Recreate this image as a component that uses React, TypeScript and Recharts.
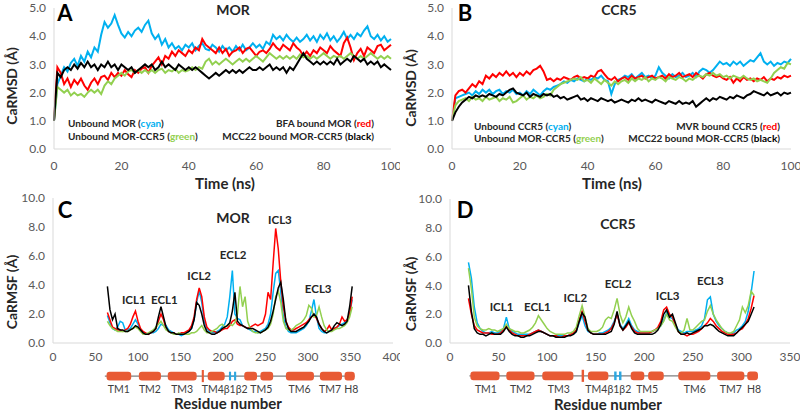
import React from 'react';
import { LineChart, Line, XAxis, YAxis, ReferenceArea, ReferenceDot } from 'recharts';

const FONT = 'Lato, "Open Sans", "DejaVu Sans", sans-serif';
const CYAN = '#00b0f0';
const RED = '#ff0000';
const GREEN = '#92d050';
const BLACK = '#000000';
const TM_FILL = '#e85a34';
const BETA_FILL = '#2ea7e0';
const LINK_FILL = '#7f7f7f';
const AXIS_GRAY = '#d9d9d9';
const TICK_GRAY = '#595959';
const TEXT_DARK = '#262626';

// ---------- Panel A: MOR RMSD (time 0..100 ns, 1 ns steps) ----------
const TIME_NS = Array.from({ length: 101 }, (_, i) => i);

const A_CYAN = [
  1.0, 2.3, 2.6, 2.9, 2.75, 3.05, 3.2, 2.95, 3.3, 3.1,
  3.45, 3.25, 3.6, 3.45, 4.05, 4.5, 4.3, 4.45, 4.75, 4.4,
  4.1, 3.95, 4.15, 4.0, 4.2, 4.3, 4.15, 4.4, 4.55, 4.1,
  3.9, 4.05, 3.7, 3.9, 3.6, 3.75, 3.55, 3.65, 3.5, 3.7,
  3.6, 3.75, 3.5, 3.65, 3.75, 3.55, 3.5, 3.7, 3.6, 3.45,
  3.65, 3.5, 3.6, 3.45, 3.65, 3.5, 3.7, 3.5, 3.6, 3.75,
  3.6, 3.7, 3.55, 3.8, 3.7, 4.05, 3.9, 4.0, 3.85, 4.05,
  3.9, 3.8, 3.95, 3.8, 3.9, 4.05, 3.85, 4.0, 3.8, 4.05,
  3.9, 4.1, 3.85, 4.0, 3.8, 3.95, 4.15, 3.9, 4.05, 3.9,
  4.1, 4.0, 4.2, 4.35, 4.0, 3.9, 4.05, 3.85, 4.0, 3.8,
  3.9,
];
const A_RED = [
  1.0, 2.9, 2.7, 2.3, 2.5, 2.2, 2.45, 2.3, 2.5, 2.25,
  2.1, 2.35, 2.5, 2.3, 2.55, 2.6, 2.45, 2.7, 2.55, 2.7,
  2.6, 2.8, 2.65, 2.55, 2.8, 2.7, 2.85, 2.9, 2.7, 2.95,
  3.1, 3.25, 3.0, 3.3, 3.2, 3.45, 3.3, 3.5, 3.4, 3.3,
  3.5, 3.4, 3.6, 3.5, 3.9, 3.7, 3.6, 3.5, 3.4, 3.6,
  3.4, 3.55, 3.3, 3.45, 3.5, 3.6, 3.4, 3.55, 3.6, 3.45,
  3.3, 3.45, 3.5, 3.4, 3.55, 3.75, 3.6, 3.5, 3.7, 3.6,
  3.5, 3.75, 3.6, 3.5, 3.3, 3.45, 3.3, 3.5, 3.4, 3.6,
  3.5, 3.4, 3.65, 3.5, 3.4, 3.3, 3.75, 3.95, 3.6, 3.15,
  3.4, 3.55, 3.3, 3.6, 3.5, 3.4, 3.65, 3.7, 3.5, 3.6,
  3.7,
];
const A_GREEN = [
  1.0, 2.2, 2.1, 2.0, 2.1, 1.9, 2.0, 1.9, 1.95, 1.85,
  2.0, 2.1, 2.0, 2.1, 1.95, 2.25, 2.4, 2.3, 2.5, 2.6,
  2.7, 2.6, 2.75, 2.8, 2.7, 2.8, 2.7, 2.8, 2.7, 2.8,
  2.7, 2.8, 2.85, 2.7, 2.8, 2.75, 2.85, 2.7, 2.8, 2.75,
  2.8, 2.9, 2.8, 2.9, 2.85, 3.1, 3.2, 3.0, 3.1, 3.0,
  3.1, 3.2, 3.1, 3.0, 3.1, 3.2, 3.1, 3.2, 3.1, 3.2,
  3.3, 3.2, 3.1, 3.25, 3.4, 3.3, 3.2, 3.3, 3.2, 3.3,
  3.2, 3.3, 3.2, 3.35, 3.25, 3.3, 3.2, 3.3, 3.2, 3.3,
  3.4, 3.3, 3.2, 3.3, 3.25, 3.3, 3.2, 3.3, 3.4, 3.3,
  3.2, 3.3, 3.2, 3.3, 3.4, 3.3, 3.2, 3.3, 3.2, 3.3,
  3.2,
];
const A_BLACK = [
  1.0, 2.7, 2.55, 2.8, 2.9, 2.8, 3.0, 2.85, 3.05, 2.9,
  3.1, 2.9, 3.0, 2.8, 3.0, 2.9, 3.1, 2.9, 3.0, 2.8,
  3.0, 2.9, 2.8, 2.9, 2.7, 2.8, 2.9, 3.0, 2.9, 3.0,
  2.8, 2.9, 3.1, 2.9, 3.0, 2.9, 2.8, 3.0, 2.9, 2.8,
  2.9, 2.8, 2.9, 2.8, 2.7, 2.6, 2.5, 2.6, 2.7, 2.6,
  2.7, 2.8, 2.7, 2.8, 2.7, 2.8, 2.7, 2.8, 2.9, 2.8,
  2.8, 2.9, 2.8, 2.9, 3.0, 2.8, 2.9, 2.8, 2.9, 2.7,
  2.9, 2.8, 3.0, 3.2, 3.4, 3.2, 3.1, 3.0, 3.1, 3.0,
  3.1, 3.0, 3.1, 3.0, 3.2, 3.0, 3.1, 3.2, 3.1, 3.3,
  3.2, 3.1, 3.2, 3.0, 3.1, 3.0, 3.1, 2.9, 3.0, 2.9,
  2.8,
];

// ---------- Panel B: CCR5 RMSD ----------
const B_CYAN = [
  1.0, 1.8, 1.85, 1.9, 1.95, 2.0, 1.9, 2.05, 1.95, 2.1,
  2.0, 2.1, 1.95, 2.05, 2.1, 1.95, 2.05, 2.0, 2.1, 1.95,
  2.0, 1.9, 2.05, 1.95, 2.1, 2.0, 1.9, 2.05, 2.15, 2.1,
  2.2, 2.25, 2.3, 2.4, 2.35, 2.45, 2.4, 2.5, 2.45, 2.4,
  2.5, 2.45, 2.55, 2.5, 2.6, 2.45, 2.4, 1.95, 2.3, 2.45,
  2.5, 2.6, 2.55, 2.65, 2.5, 2.6, 2.7, 2.55, 2.6, 2.5,
  2.6, 2.9, 2.7, 2.6, 2.5, 2.65, 2.55, 2.6, 2.7, 2.55,
  2.6, 2.7, 2.55, 2.75, 2.85, 2.8, 2.7, 2.8, 2.95, 3.1,
  3.0, 3.05, 2.95, 3.1, 3.0, 3.1, 2.95, 3.05, 3.15, 3.1,
  3.25, 3.4, 3.1, 3.0, 3.1, 2.95, 3.05, 3.0, 3.1, 3.05,
  3.2,
];
const B_RED = [
  1.0, 1.9, 2.05, 2.1, 2.0, 2.15, 2.3, 2.2, 2.4, 2.3,
  2.6, 2.5, 2.65, 2.55, 2.7, 2.6, 2.75, 2.6, 2.7, 2.55,
  2.7, 2.6, 2.75, 2.65, 2.8, 2.85, 2.95, 2.75, 2.45, 2.5,
  2.4, 2.5, 2.45, 2.55, 2.5, 2.45, 2.55, 2.6, 2.5, 2.55,
  2.5, 2.6, 2.55, 2.75, 2.8, 2.65, 2.5, 2.45, 2.55, 2.4,
  2.5, 2.55, 2.45, 2.6, 2.5, 2.55, 2.6, 2.5, 2.55, 2.6,
  2.5, 2.55, 2.6, 2.5, 2.65, 2.55, 2.6, 2.7, 2.55, 2.6,
  2.65, 2.55, 2.7, 2.6, 2.5, 2.65, 2.7, 2.6, 2.55, 2.6,
  2.5, 2.45, 2.55, 2.35, 2.5, 2.4, 2.55, 2.45, 2.5, 2.4,
  2.5, 2.45, 2.55, 2.4, 2.5, 2.45, 2.55, 2.5, 2.6, 2.55,
  2.6,
];
const B_GREEN = [
  1.0, 1.55, 1.7, 1.75, 1.8, 1.7, 1.85, 1.75, 1.8, 1.7,
  1.85, 1.75, 1.8, 1.85, 1.7, 1.8, 1.75, 1.85, 1.65, 1.7,
  1.8, 1.9, 1.75, 1.85, 1.8, 1.9, 1.8, 1.85, 1.95, 1.9,
  2.1, 2.2, 2.3, 2.35, 2.4, 2.45, 2.5, 2.45, 2.55, 2.4,
  2.45, 2.35, 2.5, 2.4, 2.3, 2.45, 2.35, 2.25, 2.4, 2.3,
  2.4, 2.45, 2.35, 2.5, 2.4, 2.5, 2.45, 2.55, 2.4, 2.5,
  2.45, 2.55, 2.5, 2.4, 2.55, 2.5, 2.45, 2.55, 2.5, 2.4,
  2.5, 2.45, 2.55, 2.6, 2.55, 2.65, 2.6, 2.7, 2.6, 2.65,
  2.55, 2.6, 2.5, 2.6, 2.55, 2.5, 2.6, 2.5, 2.45, 2.5,
  2.4, 2.45, 2.4, 2.35, 2.5, 2.7, 2.8, 2.9, 2.85, 3.05,
  3.0,
];
const B_BLACK = [
  1.0, 1.3, 1.5, 1.65, 1.75, 1.85, 1.8, 1.9, 1.85, 1.9,
  1.85, 1.95, 1.9, 1.85, 1.95, 1.9, 2.0, 2.1, 2.15, 2.0,
  1.95, 1.9, 2.0, 1.85, 1.95, 1.9, 1.85, 1.95, 1.9, 1.95,
  1.85, 1.9, 1.8, 1.85, 1.75, 1.8, 1.85, 1.9, 1.75, 1.8,
  1.7, 1.8, 1.75, 1.7, 1.8, 1.75, 1.7, 1.75, 1.65, 1.7,
  1.75, 1.7, 1.65, 1.75, 1.7, 1.8, 1.7, 1.75, 1.7, 1.65,
  1.75, 1.7, 1.65, 1.6, 1.7, 1.65, 1.6, 1.7, 1.6, 1.65,
  1.6, 1.7, 1.5, 1.6, 1.7, 1.8, 1.7, 1.8, 1.75, 1.85,
  1.8, 1.75, 1.85, 1.8, 1.9, 1.85, 1.8, 1.9, 1.95, 2.05,
  2.0, 1.95, 1.9, 2.0, 1.9, 1.95, 2.0, 1.9, 2.0, 1.95,
  2.0,
];

// ---------- Panel C: MOR RMSF (residues 64..352, step 3) ----------
const MOR_RESIDUES = Array.from({ length: 97 }, (_, i) => 64 + 3 * i);

const C_RED = [
  2.1, 1.6, 1.1, 1.0, 0.9, 0.9, 0.8, 0.9, 1.0, 1.3,
  1.8, 2.2, 1.5, 1.0, 0.8, 0.7, 0.6, 0.7, 0.8, 1.0,
  1.5, 2.0, 1.6, 1.0, 0.8, 0.7, 0.7, 0.6, 0.6, 0.7,
  0.7, 0.8, 0.9, 1.2, 1.8, 3.0, 3.8, 3.2, 1.8, 1.1,
  0.9, 0.8, 0.8, 0.7, 0.8, 0.9, 1.0, 1.0, 1.2, 1.5,
  1.6, 1.3, 1.2, 1.2, 1.1, 1.0, 1.1, 1.2, 1.3, 1.2,
  1.3, 1.4, 2.0, 3.5, 3.0, 5.5, 7.9, 6.5, 4.2, 2.5,
  1.5, 1.1, 0.9, 0.9, 1.0, 1.1, 1.2, 1.3, 1.4, 1.6,
  1.8, 1.9, 1.7, 1.3, 1.0, 0.8, 0.9, 1.2, 0.9, 1.0,
  1.1, 1.3, 1.8, 1.5, 1.6, 2.0, 3.2,
];
const C_CYAN = [
  1.9, 1.4, 1.0, 0.9, 1.1, 1.5, 1.4, 0.9, 0.9, 1.0,
  1.3, 1.6, 1.3, 0.9, 0.7, 0.6, 0.6, 0.7, 0.7, 0.8,
  1.0, 1.3, 1.2, 1.2, 0.9, 0.8, 0.7, 0.6, 0.6, 0.5,
  0.6, 0.7, 0.8, 1.0, 1.6, 2.8, 3.6, 2.8, 1.5, 1.0,
  0.8, 0.7, 0.7, 0.8, 0.9, 1.1, 1.3, 1.8, 3.2, 5.0,
  2.0, 1.7, 1.6, 1.2, 1.1, 1.0, 0.9, 0.8, 0.8, 0.7,
  0.8, 0.9, 1.0, 1.3, 2.0, 3.5, 4.8, 5.0, 3.5, 1.8,
  1.1, 0.8, 0.7, 0.7, 0.7, 0.8, 0.9, 1.0, 1.2, 1.5,
  2.2, 3.0, 1.8, 1.0, 0.8, 0.7, 0.7, 0.8, 0.9, 1.0,
  1.1, 1.2, 1.3, 1.4, 1.6, 2.0, 3.0,
];
const C_GREEN = [
  1.5, 1.2, 1.0, 0.9, 0.8, 0.8, 0.8, 0.8, 0.8, 0.9,
  1.0, 1.1, 1.0, 0.8, 0.6, 0.6, 0.7, 0.8, 0.9, 1.1,
  1.3, 1.5, 1.2, 0.9, 0.8, 0.7, 0.6, 0.6, 0.7, 0.6,
  0.6, 0.6, 0.6, 0.7, 0.7, 0.8, 1.0, 1.2, 0.9, 0.7,
  0.7, 0.8, 0.9, 1.0, 1.2, 1.3, 1.1, 1.2, 1.3, 1.2,
  1.4, 2.0, 3.9, 2.5, 3.2, 1.5, 1.0, 0.8, 0.7, 0.7,
  0.7, 0.8, 0.9, 1.0, 1.3, 2.0, 3.2, 3.6, 2.8, 1.5,
  1.0, 0.9, 0.9, 1.0, 1.2, 1.3, 1.4, 1.6, 1.9, 2.6,
  2.4, 1.8, 1.9, 2.5, 1.8, 1.2, 0.9, 0.8, 0.8, 0.9,
  1.0, 1.0, 1.1, 1.2, 1.4, 1.8, 2.5,
];
const C_BLACK = [
  3.9, 2.3, 1.6, 2.0, 1.0, 0.9, 0.9, 0.8, 0.8, 0.9,
  1.0, 1.2, 1.1, 0.9, 0.7, 0.6, 0.6, 0.7, 0.8, 1.0,
  1.8, 2.5, 1.8, 1.1, 0.8, 0.7, 0.7, 0.6, 0.6, 0.6,
  0.6, 0.7, 0.8, 1.0, 1.6, 2.8, 2.6, 2.0, 1.2, 0.8,
  0.7, 0.6, 0.6, 0.7, 0.8, 1.0, 1.1, 1.2, 1.4, 2.2,
  3.5, 1.5, 1.3, 1.2, 1.1, 1.0, 1.0, 1.0, 0.9, 0.8,
  0.7, 0.8, 0.9, 1.1, 1.5, 2.2, 3.0, 3.8, 4.2, 3.0,
  1.5, 1.0, 0.8, 0.8, 0.8, 0.9, 1.0, 1.1, 1.3, 1.5,
  1.8, 2.0, 1.8, 1.3, 1.0, 0.8, 0.7, 0.8, 0.9, 1.2,
  1.4, 1.3, 1.2, 1.3, 1.5, 2.5, 3.9,
];

// ---------- Panel D: CCR5 RMSF (residues 19..313, step 3) ----------
const CCR5_RESIDUES = Array.from({ length: 99 }, (_, i) => 19 + 3 * i);

const D_CYAN = [
  5.6, 4.5, 2.5, 1.4, 1.0, 0.8, 0.7, 0.7, 0.8, 0.7,
  0.7, 0.8, 1.0, 1.8, 1.0, 0.8, 0.7, 0.6, 0.6, 0.6,
  0.6, 0.6, 0.7, 0.8, 0.9, 0.8, 0.7, 0.6, 0.5, 0.5,
  0.5, 0.5, 0.5, 0.5, 0.5, 0.6, 0.6, 0.8, 1.4, 1.9,
  1.2, 0.8, 0.7, 0.6, 0.6, 0.7, 0.7, 0.8, 0.9, 1.1,
  1.5, 2.0, 1.3, 1.0, 1.3, 1.7, 1.2, 0.9, 0.8, 0.7,
  0.7, 0.7, 0.7, 0.8, 0.9, 1.0, 1.2, 1.6, 2.1, 1.8,
  1.7, 1.3, 0.9, 0.8, 0.7, 0.8, 0.8, 0.8, 0.9, 1.0,
  1.2, 1.7, 3.0, 3.2, 2.0, 1.5, 1.2, 1.0, 0.8, 0.7,
  0.6, 0.7, 0.9, 1.0, 1.2, 1.5, 2.2, 3.5, 5.0,
];
const D_RED = [
  3.1, 2.0, 1.2, 0.9, 0.8, 0.7, 0.7, 0.7, 0.6, 0.6,
  0.6, 0.7, 0.9, 1.2, 0.9, 0.7, 0.6, 0.5, 0.5, 0.5,
  0.5, 0.6, 0.7, 0.8, 0.9, 0.8, 0.7, 0.6, 0.5, 0.5,
  0.5, 0.4, 0.4, 0.5, 0.5, 0.6, 0.7, 0.9, 1.6, 2.2,
  1.5, 0.9, 0.7, 0.6, 0.6, 0.6, 0.6, 0.7, 0.8, 1.0,
  1.4, 2.0, 1.2, 0.9, 1.1, 1.4, 1.1, 0.8, 0.7, 0.7,
  0.7, 0.7, 0.7, 0.8, 0.9, 1.1, 1.5, 2.3, 2.5, 2.0,
  1.8, 1.2, 0.8, 0.6, 0.6, 0.5, 0.6, 0.6, 0.7, 0.8,
  1.0, 1.2, 1.4, 1.7, 1.5, 1.2, 1.0, 0.8, 0.7, 0.6,
  0.6, 0.6, 0.7, 0.9, 1.0, 1.3, 1.7, 2.4, 3.3,
];
const D_GREEN = [
  5.2, 3.8, 1.8, 1.2, 1.0, 0.9, 0.9, 1.0, 0.9, 0.9,
  0.8, 0.9, 1.0, 1.3, 1.0, 0.9, 0.8, 0.8, 0.7, 0.7,
  0.8, 0.9, 1.1, 1.4, 1.9, 1.6, 1.3, 1.0, 0.8, 0.7,
  0.6, 0.6, 0.6, 0.6, 0.7, 0.7, 0.8, 1.1, 1.9, 2.6,
  1.8, 1.0, 0.8, 0.8, 0.8, 0.9, 1.1, 1.6, 1.8, 1.7,
  2.3, 3.1, 2.0, 1.4, 1.8, 2.5, 1.9, 1.5, 1.0, 0.8,
  0.8, 0.8, 0.8, 0.8, 0.9, 1.0, 1.2, 1.5, 2.0, 1.6,
  1.5, 1.1, 0.8, 0.7, 0.9, 1.7, 0.9, 0.9, 1.1, 1.3,
  1.5, 1.6, 2.2, 2.6, 2.0, 1.6, 1.3, 1.0, 0.8, 0.7,
  0.7, 0.8, 1.2, 1.6, 2.5, 2.1, 2.6, 3.6, 3.3,
];
const D_BLACK = [
  4.0, 2.2, 1.0, 0.7, 0.6, 0.6, 0.5, 0.6, 0.7, 0.6,
  0.6, 0.6, 0.8, 1.1, 0.8, 0.6, 0.5, 0.5, 0.4, 0.4,
  0.5, 0.5, 0.6, 0.7, 0.8, 0.8, 0.7, 0.6, 0.5, 0.5,
  0.4, 0.4, 0.4, 0.4, 0.5, 0.5, 0.6, 0.8, 1.5, 2.1,
  1.8, 0.9, 0.7, 0.6, 0.6, 0.6, 0.6, 0.6, 0.7, 0.8,
  1.3, 2.2, 1.2, 0.9, 1.2, 1.5, 1.0, 0.7, 0.6, 0.6,
  0.6, 0.6, 0.6, 0.6, 0.7, 0.9, 1.3, 2.0, 2.3, 1.8,
  2.0, 1.4, 0.8, 0.6, 0.6, 0.7, 0.6, 0.7, 0.8, 0.9,
  1.0, 1.2, 1.2, 1.3, 1.2, 1.0, 0.8, 0.7, 0.6, 0.5,
  0.5, 0.5, 0.7, 0.9, 1.1, 1.3, 1.5, 2.0, 2.5,
];

// ---------- Secondary-structure diagrams (residue ranges) ----------
const MOR_SPAN = [61, 355];
const MOR_HELICES = [
  [63, 92], [101, 127], [135, 169], [182, 202], [225, 240], [244, 259], [274, 307], [314, 340], [343, 355],
];
const MOR_KINK = [175, 177.5];
const MOR_STRANDS = [[207, 209.5], [213, 215.5]];
const MOR_TM_LABELS = [
  { text: 'TM1', res: 77.5 }, { text: 'TM2', res: 114 }, { text: 'TM3', res: 152 },
  { text: 'TM4β1β2', res: 202 }, { text: 'TM5', res: 245 },
  { text: 'TM6', res: 290 }, { text: 'TM7', res: 326 }, { text: 'H8', res: 351 },
];
const MOR_LOOP_LABELS = [
  { text: 'ICL1', res: 95, val: 3.0 }, { text: 'ECL1', res: 131, val: 3.0 },
  { text: 'ICL2', res: 172, val: 4.6 }, { text: 'ECL2', res: 212, val: 6.1 },
  { text: 'ICL3', res: 267, val: 8.5 }, { text: 'ECL3', res: 312, val: 3.7 },
];

const CCR5_SPAN = [20, 317];
const CCR5_HELICES = [
  [21, 51], [58, 87], [95, 127], [142, 163], [186, 200], [204, 220], [235, 268], [275, 303], [306, 317],
];
const CCR5_KINK = [135.5, 138];
const CCR5_STRANDS = [[169, 171.5], [174, 176.5]];
const CCR5_TM_LABELS = [
  { text: 'TM1', res: 37 }, { text: 'TM2', res: 73 }, { text: 'TM3', res: 112 },
  { text: 'TM4β1β2', res: 163 }, { text: 'TM5', res: 203 },
  { text: 'TM6', res: 252 }, { text: 'TM7', res: 289 }, { text: 'H8', res: 313 },
];
const CCR5_LOOP_LABELS = [
  { text: 'ICL1', res: 53, val: 2.5 }, { text: 'ECL1', res: 90, val: 2.5 },
  { text: 'ICL2', res: 129, val: 3.1 }, { text: 'ECL2', res: 173, val: 4.1 },
  { text: 'ICL3', res: 224, val: 3.3 }, { text: 'ECL3', res: 268, val: 4.3 },
];

const TIME_TICKS = [0, 20, 40, 60, 80, 100];
const RMSD_TICKS = [0, 1, 2, 3, 4, 5];
const RMSF_TICKS = [0, 2, 4, 6, 8, 10];
const MOR_RES_TICKS = [0, 50, 100, 150, 200, 250, 300, 350, 400];
const CCR5_RES_TICKS = [0, 50, 100, 150, 200, 250, 300, 350];

const tableA = TIME_NS.map((t, i) => ({ x: t, cyan: A_CYAN[i], red: A_RED[i], green: A_GREEN[i], black: A_BLACK[i] }));
const tableB = TIME_NS.map((t, i) => ({ x: t, cyan: B_CYAN[i], red: B_RED[i], green: B_GREEN[i], black: B_BLACK[i] }));
const tableC = MOR_RESIDUES.map((r, i) => ({ x: r, cyan: C_CYAN[i], red: C_RED[i], green: C_GREEN[i], black: C_BLACK[i] }));
const tableD = CCR5_RESIDUES.map((r, i) => ({ x: r, cyan: D_CYAN[i], red: D_RED[i], green: D_GREEN[i], black: D_BLACK[i] }));

const fmt1 = (v: number) => v.toFixed(1);
const tickStyle = { fill: TICK_GRAY, fontSize: 12, fontFamily: FONT };

function Txt(props: {
  x: number; y: number; children: React.ReactNode; size?: number; bold?: boolean;
  anchor?: 'start' | 'middle' | 'end'; rotate?: number; color?: string;
}) {
  const { x, y, children, size = 12, bold = false, anchor = 'middle', rotate = 0, color = TEXT_DARK } = props;
  const tx = anchor === 'start' ? '0' : anchor === 'end' ? '-100%' : '-50%';
  return (
    <div
      style={{
        position: 'absolute', left: x, top: y, whiteSpace: 'nowrap',
        transform: `translate(${tx}, -50%) rotate(${rotate}deg)`,
        fontFamily: FONT, fontSize: size, fontWeight: bold ? 700 : 400, color, lineHeight: 1.15,
      }}
    >
      {children}
    </div>
  );
}

function seriesLines(width: number) {
  return [
    <Line key="cyan" dataKey="cyan" stroke={CYAN} strokeWidth={width} dot={false} activeDot={false} isAnimationActive={false} type="linear" />,
    <Line key="red" dataKey="red" stroke={RED} strokeWidth={width} dot={false} activeDot={false} isAnimationActive={false} type="linear" />,
    <Line key="green" dataKey="green" stroke={GREEN} strokeWidth={width} dot={false} activeDot={false} isAnimationActive={false} type="linear" />,
    <Line key="black" dataKey="black" stroke={BLACK} strokeWidth={width} dot={false} activeDot={false} isAnimationActive={false} type="linear" />,
  ];
}

function RmsdChart(props: { data: any[]; left: number; yWidth: number; right: number; top: number }) {
  const { data, left, yWidth, right, top } = props;
  return (
    <div style={{ position: 'absolute', left, top: 0 }}>
      <LineChart width={400} height={200} data={data} margin={{ top, right, bottom: 0, left: 0 }}>
        <XAxis dataKey="x" type="number" domain={[0, 100]} ticks={TIME_TICKS} interval={0} height={200 - 149 - 0}
          tickLine={false} axisLine={{ stroke: AXIS_GRAY }} tick={tickStyle} tickMargin={6} />
        <YAxis type="number" domain={[0, 5]} ticks={RMSD_TICKS} interval={0} width={yWidth}
          tickLine={false} axisLine={{ stroke: AXIS_GRAY }} tick={tickStyle} tickMargin={2} tickFormatter={fmt1} />
        {seriesLines(2)}
      </LineChart>
    </div>
  );
}

const BAR_TOP = -1.98;
const BAR_BOTTOM = -2.58;
const LINK_TOP = -2.24;
const LINK_BOTTOM = -2.33;
const LABEL_Y = -3.2;

function structure(span: number[], helices: number[][], kink: number[], strands: number[][], labels: { text: string; res: number }[]) {
  const out: React.ReactNode[] = [];
  out.push(<ReferenceArea key="link" x1={span[0]} x2={span[1]} y1={LINK_TOP} y2={LINK_BOTTOM} ifOverflow="visible" fill={LINK_FILL} fillOpacity={1} stroke="none" />);
  out.push(<ReferenceArea key="betalink" x1={strands[0][0]} x2={strands[1][1]} y1={LINK_TOP} y2={LINK_BOTTOM} ifOverflow="visible" fill={BETA_FILL} fillOpacity={1} stroke="none" />);
  helices.forEach((h, i) => {
    out.push(<ReferenceArea key={'h' + i} x1={h[0]} x2={h[1]} y1={BAR_TOP} y2={BAR_BOTTOM} ifOverflow="visible" fill={TM_FILL} fillOpacity={1} stroke="none" radius={3} />);
  });
  out.push(<ReferenceArea key="kink" x1={kink[0]} x2={kink[1]} y1={BAR_TOP + 0.12} y2={BAR_BOTTOM - 0.12} ifOverflow="visible" fill={TM_FILL} fillOpacity={1} stroke="none" />);
  strands.forEach((s, i) => {
    out.push(<ReferenceArea key={'s' + i} x1={s[0]} x2={s[1]} y1={BAR_TOP} y2={BAR_BOTTOM} ifOverflow="visible" fill={BETA_FILL} fillOpacity={1} stroke="none" />);
  });
  labels.forEach((l, i) => {
    out.push(
      <ReferenceDot key={'l' + i} x={l.res} y={LABEL_Y} r={0.5} fill="none" stroke="none" ifOverflow="visible"
        label={{ value: l.text, position: 'center', fill: '#404040', fontSize: 10.5, fontFamily: FONT }} />
    );
  });
  return out;
}

function loopLabels(labels: { text: string; res: number; val: number }[]) {
  return labels.map((l, i) => (
    <ReferenceDot key={'loop' + i} x={l.res} y={l.val} r={0.5} fill="none" stroke="none" ifOverflow="visible"
      label={{ value: l.text, position: 'center', fill: TEXT_DARK, fontSize: 11.5, fontWeight: 700, fontFamily: FONT }} />
  ));
}

function RmsfChart(props: {
  data: any[]; left: number; yWidth: number; right: number; top: number; xMax: number; xTicks: number[];
  span: number[]; helices: number[][]; kink: number[]; strands: number[][];
  tmLabels: { text: string; res: number }[]; loops: { text: string; res: number; val: number }[];
}) {
  const p = props;
  return (
    <div style={{ position: 'absolute', left: p.left, top: 190 }}>
      <LineChart width={400} height={222} data={p.data} margin={{ top: p.top, right: p.right, bottom: 0, left: 0 }}>
        <XAxis dataKey="x" type="number" domain={[0, p.xMax]} ticks={p.xTicks} interval={0} height={222 - 153}
          tickLine={false} axisLine={{ stroke: AXIS_GRAY }} tick={tickStyle} tickMargin={3} />
        <YAxis type="number" domain={[0, 10]} ticks={RMSF_TICKS} interval={0} width={p.yWidth}
          tickLine={false} axisLine={{ stroke: AXIS_GRAY }} tick={tickStyle} tickMargin={2} tickFormatter={fmt1} />
        {seriesLines(1.5)}
        {structure(p.span, p.helices, p.kink, p.strands, p.tmLabels)}
        {loopLabels(p.loops)}
      </LineChart>
    </div>
  );
}

function Legend2(props: { x: number; y: number; label: string; word: string; color: string; anchor: 'start' | 'end' }) {
  return (
    <Txt x={props.x} y={props.y} size={10} bold anchor={props.anchor}>
      {props.label} (<span style={{ color: props.color }}>{props.word}</span>)
    </Txt>
  );
}

export default function App() {
  return (
    <div style={{ position: 'absolute', left: 0, top: 0, width: 800, height: 412, overflow: 'hidden', background: '#fff' }}>
      <RmsdChart data={tableA} left={0} yWidth={54} right={9} top={8} />
      <RmsdChart data={tableB} left={400} yWidth={52} right={9} top={8} />
      <RmsfChart data={tableC} left={0} yWidth={53} right={7} top={8} xMax={400} xTicks={MOR_RES_TICKS}
        span={MOR_SPAN} helices={MOR_HELICES} kink={MOR_KINK} strands={MOR_STRANDS}
        tmLabels={MOR_TM_LABELS} loops={MOR_LOOP_LABELS} />
      <RmsfChart data={tableD} left={400} yWidth={50} right={10} top={9} xMax={350} xTicks={CCR5_RES_TICKS}
        span={CCR5_SPAN} helices={CCR5_HELICES} kink={CCR5_KINK} strands={CCR5_STRANDS}
        tmLabels={CCR5_TM_LABELS} loops={CCR5_LOOP_LABELS} />

      {/* Panel A annotations */}
      <Txt x={65} y={13} size={22} bold color="#000">A</Txt>
      <Txt x={233} y={10} size={14} bold>MOR</Txt>
      <Txt x={12} y={86} size={14} bold rotate={-90}>CaRMSD (Å)</Txt>
      <Txt x={225} y={184} size={15} bold>Time (ns)</Txt>
      <Legend2 x={68} y={124} label="Unbound MOR" word="cyan" color={CYAN} anchor="start" />
      <Legend2 x={68} y={137} label="Unbound MOR-CCR5" word="green" color={GREEN} anchor="start" />
      <Legend2 x={374} y={124} label="BFA bound MOR" word="red" color={RED} anchor="end" />
      <Legend2 x={374} y={137} label="MCC22 bound MOR-CCR5" word="black" color={BLACK} anchor="end" />

      {/* Panel B annotations */}
      <Txt x={465} y={13} size={22} bold color="#000">B</Txt>
      <Txt x={619} y={10} size={14} bold>CCR5</Txt>
      <Txt x={411} y={88} size={14} bold rotate={-90}>CaRMSD (Å)</Txt>
      <Txt x={612} y={184} size={15} bold>Time (ns)</Txt>
      <Legend2 x={474} y={127} label="Unbound CCR5" word="cyan" color={CYAN} anchor="start" />
      <Legend2 x={474} y={139} label="Unbound MOR-CCR5" word="green" color={GREEN} anchor="start" />
      <Legend2 x={780} y={127} label="MVR bound CCR5" word="red" color={RED} anchor="end" />
      <Legend2 x={780} y={139} label="MCC22 bound MOR-CCR5" word="black" color={BLACK} anchor="end" />

      {/* Panel C annotations */}
      <Txt x={65} y={210} size={22} bold color="#000">C</Txt>
      <Txt x={233} y={218} size={14} bold>MOR</Txt>
      <Txt x={12} y={292} size={14} bold rotate={-90}>CaRMSF (Å)</Txt>
      <Txt x={228} y={404} size={15} bold>Residue number</Txt>

      {/* Panel D annotations */}
      <Txt x={465} y={210} size={22} bold color="#000">D</Txt>
      <Txt x={618} y={224} size={14} bold>CCR5</Txt>
      <Txt x={411} y={294} size={14} bold rotate={-90}>CaRMSF (Å)</Txt>
      <Txt x={608} y={405} size={15} bold>Residue number</Txt>
    </div>
  );
}
